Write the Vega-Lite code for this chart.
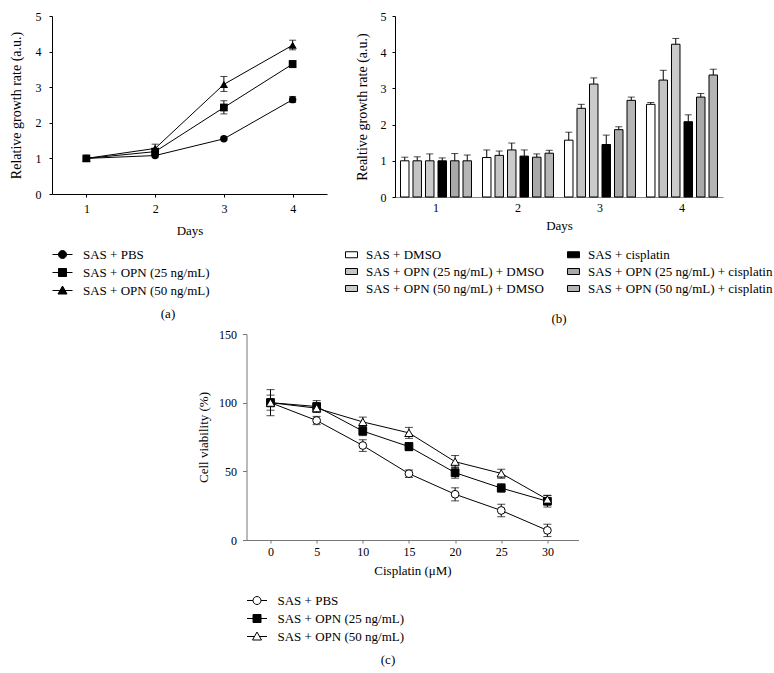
{
  "$schema": "https://vega.github.io/schema/vega-lite/v6.json",
  "padding": {"left": 9, "top": 10, "right": 0, "bottom": 0},
  "config": {
    "font": "Liberation Serif",
    "view": {"stroke": null},
    "axis": {"grid": false, "labelFont": "Liberation Serif", "labelFontSize": 12, "labelColor": "black", "titleFont": "Liberation Serif", "titleFontSize": 13, "titleFontWeight": "normal", "titleColor": "black", "domainColor": "black", "tickColor": "black", "tickSize": 3, "labelPadding": 6},
    "legend": {"labelFont": "Liberation Serif", "labelFontSize": 13, "labelColor": "black", "padding": 0, "titlePadding": 0, "labelLimit": 0},
    "title": {"font": "Liberation Serif", "fontSize": 13, "fontWeight": "normal", "color": "black"}
  },
  "center": true,
  "spacing": 2,
  "resolve": {"scale": {"shape": "independent", "fill": "independent", "color": "independent"}, "legend": {"shape": "independent", "fill": "independent", "color": "independent"}},
  "vconcat": [
    {
      "spacing": 18,
      "resolve": {"scale": {"shape": "independent", "fill": "independent", "color": "independent"}, "legend": {"shape": "independent", "fill": "independent", "color": "independent"}},
      "hconcat": [
        {
          "width": 275,
          "height": 178,
          "title": {"text": "(a)", "orient": "bottom", "offset": 10, "frame": "bounds"},
          "data": {"values": [
            {"day": 1, "series": "SAS + PBS", "v": 1.0, "lo": 0.95, "hi": 1.05},
            {"day": 2, "series": "SAS + PBS", "v": 1.08, "lo": 1.04, "hi": 1.12},
            {"day": 3, "series": "SAS + PBS", "v": 1.55, "lo": 1.52, "hi": 1.58},
            {"day": 4, "series": "SAS + PBS", "v": 2.65, "lo": 2.57, "hi": 2.74},
            {"day": 1, "series": "SAS + OPN (25 ng/mL)", "v": 1.0, "lo": 0.94, "hi": 1.06},
            {"day": 2, "series": "SAS + OPN (25 ng/mL)", "v": 1.19, "lo": 1.1, "hi": 1.28},
            {"day": 3, "series": "SAS + OPN (25 ng/mL)", "v": 2.43, "lo": 2.25, "hi": 2.62},
            {"day": 4, "series": "SAS + OPN (25 ng/mL)", "v": 3.65, "lo": 3.55, "hi": 3.75},
            {"day": 1, "series": "SAS + OPN (50 ng/mL)", "v": 1.0, "lo": 0.94, "hi": 1.06},
            {"day": 2, "series": "SAS + OPN (50 ng/mL)", "v": 1.28, "lo": 1.16, "hi": 1.4},
            {"day": 3, "series": "SAS + OPN (50 ng/mL)", "v": 3.08, "lo": 2.88, "hi": 3.3},
            {"day": 4, "series": "SAS + OPN (50 ng/mL)", "v": 4.18, "lo": 4.05, "hi": 4.32}
          ]},
          "encoding": {
            "x": {"field": "day", "type": "quantitative", "scale": {"domain": [0.5, 4.5], "nice": false}, "axis": {"values": [1, 2, 3, 4], "format": "d", "title": "Days", "labelPadding": 6, "titlePadding": 10}}
          },
          "layer": [
            {"mark": {"type": "line", "color": "black", "strokeWidth": 1},
             "encoding": {
               "y": {"field": "v", "type": "quantitative", "scale": {"domain": [0, 5], "nice": false}, "title": "Relative growth rate (a.u.)", "axis": {"values": [0, 1, 2, 3, 4, 5], "titlePadding": 12, "labelPadding": 8, "titleFontSize": 14}},
               "detail": {"field": "series"}}},
            {"mark": {"type": "rule", "color": "black", "strokeWidth": 1},
             "encoding": {"y": {"field": "lo", "type": "quantitative", "scale": {"domain": [0, 5], "nice": false}, "title": "Relative growth rate (a.u.)", "axis": {"values": [0, 1, 2, 3, 4, 5], "titlePadding": 12, "labelPadding": 8, "titleFontSize": 14}}, "y2": {"field": "hi"}}},
            {"mark": {"type": "tick", "orient": "horizontal", "color": "black", "size": 7, "thickness": 1},
             "encoding": {"y": {"field": "hi", "type": "quantitative", "scale": {"domain": [0, 5], "nice": false}, "title": "Relative growth rate (a.u.)", "axis": {"values": [0, 1, 2, 3, 4, 5], "titlePadding": 12, "labelPadding": 8, "titleFontSize": 14}}}},
            {"mark": {"type": "tick", "orient": "horizontal", "color": "black", "size": 7, "thickness": 1},
             "encoding": {"y": {"field": "lo", "type": "quantitative", "scale": {"domain": [0, 5], "nice": false}, "title": "Relative growth rate (a.u.)", "axis": {"values": [0, 1, 2, 3, 4, 5], "titlePadding": 12, "labelPadding": 8, "titleFontSize": 14}}}},
            {"transform": [{"filter": "datum.series === 'SAS + PBS'"}],
             "mark": {"type": "point", "shape": "circle", "filled": true, "color": "black", "size": 55, "opacity": 1},
             "encoding": {"y": {"field": "v", "type": "quantitative", "scale": {"domain": [0, 5], "nice": false}, "title": "Relative growth rate (a.u.)", "axis": {"values": [0, 1, 2, 3, 4, 5], "titlePadding": 12, "labelPadding": 8, "titleFontSize": 14}}}},
            {"transform": [{"filter": "datum.series === 'SAS + OPN (25 ng/mL)'"}],
             "mark": {"type": "point", "shape": "square", "filled": true, "color": "black", "size": 60, "opacity": 1},
             "encoding": {"y": {"field": "v", "type": "quantitative", "scale": {"domain": [0, 5], "nice": false}, "title": "Relative growth rate (a.u.)", "axis": {"values": [0, 1, 2, 3, 4, 5], "titlePadding": 12, "labelPadding": 8, "titleFontSize": 14}}}},
            {"transform": [{"filter": "datum.series === 'SAS + OPN (50 ng/mL)'"}],
             "mark": {"type": "point", "shape": "triangle-up", "filled": true, "color": "black", "size": 70, "opacity": 1},
             "encoding": {"y": {"field": "v", "type": "quantitative", "scale": {"domain": [0, 5], "nice": false}, "title": "Relative growth rate (a.u.)", "axis": {"values": [0, 1, 2, 3, 4, 5], "titlePadding": 12, "labelPadding": 8, "titleFontSize": 14}}}},
            {"transform": [{"filter": "false"}],
             "mark": {"type": "point", "filled": true, "stroke": "black"},
             "encoding": {
               "y": {"field": "v", "type": "quantitative", "scale": {"domain": [0, 5], "nice": false}, "title": "Relative growth rate (a.u.)", "axis": {"values": [0, 1, 2, 3, 4, 5], "titlePadding": 12, "labelPadding": 8, "titleFontSize": 14}},
               "shape": {"field": "series", "type": "nominal",
                 "scale": {"domain": ["SAS + PBS", "SAS + OPN (25 ng/mL)", "SAS + OPN (50 ng/mL)"], "range": ["M-1,0H1M0.4,0A0.4,0.4,0,1,1,-0.4,0A0.4,0.4,0,1,1,0.4,0Z", "M-1,0H1M-0.4,-0.4H0.4V0.4H-0.4Z", "M-1,0H1M0,-0.45L0.45,0.35H-0.45Z"]},
                 "legend": {"orient": "none", "legendX": 0, "legendY": 228, "title": null, "symbolSize": 400, "symbolOpacity": 1, "symbolStrokeColor": "black", "symbolStrokeWidth": 1, "labelOffset": 10, "rowPadding": -2.5,
                   "encode": {"symbols": {"update": {"stroke": {"value": "black"}, "strokeWidth": {"value": 1}, "opacity": {"value": 1}}}}}},
               "fill": {"field": "series", "type": "nominal",
                 "scale": {"domain": ["SAS + PBS", "SAS + OPN (25 ng/mL)", "SAS + OPN (50 ng/mL)"], "range": ["black", "black", "black"]},
                 "legend": {"orient": "none", "legendX": 0, "legendY": 228, "title": null, "symbolSize": 400, "symbolOpacity": 1, "symbolStrokeColor": "black", "symbolStrokeWidth": 1, "labelOffset": 10, "rowPadding": -2.5,
                   "encode": {"symbols": {"update": {"stroke": {"value": "black"}, "strokeWidth": {"value": 1}, "opacity": {"value": 1}}}}}}}}
          ]
        },
        {
          "width": 328,
          "height": 181,
          "title": {"text": "(b)", "orient": "bottom", "offset": 17, "frame": "bounds"},
          "data": {"values": [
            {"day": "1", "series": "SAS + DMSO", "v": 1.0, "hi": 1.1},
            {"day": "1", "series": "SAS + OPN (25 ng/mL) + DMSO", "v": 1.0, "hi": 1.11},
            {"day": "1", "series": "SAS + OPN (50 ng/mL) + DMSO", "v": 1.0, "hi": 1.19},
            {"day": "1", "series": "SAS + cisplatin", "v": 1.0, "hi": 1.08},
            {"day": "1", "series": "SAS + OPN (25 ng/mL) + cisplatin", "v": 1.0, "hi": 1.2},
            {"day": "1", "series": "SAS + OPN (50 ng/mL) + cisplatin", "v": 1.0, "hi": 1.16},
            {"day": "2", "series": "SAS + DMSO", "v": 1.09, "hi": 1.3},
            {"day": "2", "series": "SAS + OPN (25 ng/mL) + DMSO", "v": 1.15, "hi": 1.27},
            {"day": "2", "series": "SAS + OPN (50 ng/mL) + DMSO", "v": 1.3, "hi": 1.49},
            {"day": "2", "series": "SAS + cisplatin", "v": 1.13, "hi": 1.3},
            {"day": "2", "series": "SAS + OPN (25 ng/mL) + cisplatin", "v": 1.1, "hi": 1.19},
            {"day": "2", "series": "SAS + OPN (50 ng/mL) + cisplatin", "v": 1.21, "hi": 1.29},
            {"day": "3", "series": "SAS + DMSO", "v": 1.57, "hi": 1.79},
            {"day": "3", "series": "SAS + OPN (25 ng/mL) + DMSO", "v": 2.45, "hi": 2.56},
            {"day": "3", "series": "SAS + OPN (50 ng/mL) + DMSO", "v": 3.12, "hi": 3.29},
            {"day": "3", "series": "SAS + cisplatin", "v": 1.45, "hi": 1.71},
            {"day": "3", "series": "SAS + OPN (25 ng/mL) + cisplatin", "v": 1.86, "hi": 1.94},
            {"day": "3", "series": "SAS + OPN (50 ng/mL) + cisplatin", "v": 2.67, "hi": 2.76},
            {"day": "4", "series": "SAS + DMSO", "v": 2.56, "hi": 2.61},
            {"day": "4", "series": "SAS + OPN (25 ng/mL) + DMSO", "v": 3.23, "hi": 3.5},
            {"day": "4", "series": "SAS + OPN (50 ng/mL) + DMSO", "v": 4.22, "hi": 4.38},
            {"day": "4", "series": "SAS + cisplatin", "v": 2.08, "hi": 2.27},
            {"day": "4", "series": "SAS + OPN (25 ng/mL) + cisplatin", "v": 2.76, "hi": 2.86},
            {"day": "4", "series": "SAS + OPN (50 ng/mL) + cisplatin", "v": 3.37, "hi": 3.53}
          ]},
          "encoding": {
            "x": {"field": "day", "type": "ordinal", "scale": {"paddingInner": 0.134, "paddingOuter": 0.067}, "axis": {"title": "Days", "labelAngle": 0, "ticks": false, "domainColor": "#888888", "labelPadding": 5, "titlePadding": 6}},
            "xOffset": {"field": "series", "type": "nominal", "scale": {"domain": ["SAS + DMSO", "SAS + OPN (25 ng/mL) + DMSO", "SAS + OPN (50 ng/mL) + DMSO", "SAS + cisplatin", "SAS + OPN (25 ng/mL) + cisplatin", "SAS + OPN (50 ng/mL) + cisplatin"], "paddingInner": 0.32, "paddingOuter": 0}}
          },
          "layer": [
            {"mark": {"type": "bar", "stroke": "black", "strokeWidth": 1},
             "encoding": {
               "y": {"field": "v", "type": "quantitative", "scale": {"domain": [0, 5], "nice": false}, "title": "Realtive growth rate (a.u.)", "axis": {"values": [0, 1, 2, 3, 4, 5], "titlePadding": 11, "labelPadding": 6, "titleFontSize": 14}},
               "fill": {"field": "series", "type": "nominal",
                 "scale": {"domain": ["SAS + DMSO", "SAS + OPN (25 ng/mL) + DMSO", "SAS + OPN (50 ng/mL) + DMSO", "SAS + cisplatin", "SAS + OPN (25 ng/mL) + cisplatin", "SAS + OPN (50 ng/mL) + cisplatin"],
                           "range": ["#ffffff", "#c4c4c4", "#cbcbcb", "#000000", "#a9a9a9", "#b5b5b5"]},
                 "legend": {"orient": "none", "legendX": -50, "legendY": 232, "title": null, "columns": 2, "columnPadding": 21, "symbolType": "M-1,-0.5H1V0.5H-1Z", "symbolSize": 144, "symbolStrokeColor": "black", "symbolStrokeWidth": 1, "labelOffset": 8, "rowPadding": 3, "labelLimit": 0}}}},
            {"mark": {"type": "rule", "color": "black", "strokeWidth": 1},
             "encoding": {"y": {"field": "v", "type": "quantitative", "scale": {"domain": [0, 5], "nice": false}, "title": "Realtive growth rate (a.u.)", "axis": {"values": [0, 1, 2, 3, 4, 5], "titlePadding": 11, "labelPadding": 6, "titleFontSize": 14}}, "y2": {"field": "hi"}}},
            {"mark": {"type": "tick", "orient": "horizontal", "color": "black", "size": 7, "thickness": 1},
             "encoding": {"y": {"field": "hi", "type": "quantitative", "scale": {"domain": [0, 5], "nice": false}, "title": "Realtive growth rate (a.u.)", "axis": {"values": [0, 1, 2, 3, 4, 5], "titlePadding": 11, "labelPadding": 6, "titleFontSize": 14}}}}
          ]
        }
      ]
    },
    {
      "width": 332,
      "height": 206,
      "title": {"text": "(c)", "orient": "bottom", "offset": 10, "frame": "bounds"},
      "data": {"values": [
        {"dose": 0, "series": "SAS + PBS", "v": 100, "lo": 90.5, "hi": 109.5},
        {"dose": 5, "series": "SAS + PBS", "v": 87, "lo": 84, "hi": 90},
        {"dose": 10, "series": "SAS + PBS", "v": 68.8, "lo": 64.5, "hi": 73},
        {"dose": 15, "series": "SAS + PBS", "v": 48.3, "lo": 45.5, "hi": 51},
        {"dose": 20, "series": "SAS + PBS", "v": 33.3, "lo": 28.5, "hi": 38},
        {"dose": 25, "series": "SAS + PBS", "v": 21.5, "lo": 17, "hi": 26},
        {"dose": 30, "series": "SAS + PBS", "v": 7, "lo": 2.5, "hi": 11.5},
        {"dose": 0, "series": "SAS + OPN (25 ng/mL)", "v": 100, "lo": 94.5, "hi": 105.5},
        {"dose": 5, "series": "SAS + OPN (25 ng/mL)", "v": 97.2, "lo": 93, "hi": 101.5},
        {"dose": 10, "series": "SAS + OPN (25 ng/mL)", "v": 79.3, "lo": 76, "hi": 82.5},
        {"dose": 15, "series": "SAS + OPN (25 ng/mL)", "v": 68, "lo": 65, "hi": 71},
        {"dose": 20, "series": "SAS + OPN (25 ng/mL)", "v": 49, "lo": 45, "hi": 53},
        {"dose": 25, "series": "SAS + OPN (25 ng/mL)", "v": 37.8, "lo": 35, "hi": 41},
        {"dose": 30, "series": "SAS + OPN (25 ng/mL)", "v": 28.2, "lo": 24, "hi": 32.5},
        {"dose": 0, "series": "SAS + OPN (50 ng/mL)", "v": 100, "lo": 97, "hi": 103},
        {"dose": 5, "series": "SAS + OPN (50 ng/mL)", "v": 96, "lo": 93, "hi": 99},
        {"dose": 10, "series": "SAS + OPN (50 ng/mL)", "v": 86, "lo": 82.5, "hi": 89.5},
        {"dose": 15, "series": "SAS + OPN (50 ng/mL)", "v": 78, "lo": 74, "hi": 82},
        {"dose": 20, "series": "SAS + OPN (50 ng/mL)", "v": 57, "lo": 53, "hi": 61.5},
        {"dose": 25, "series": "SAS + OPN (50 ng/mL)", "v": 48.5, "lo": 45, "hi": 51.5},
        {"dose": 30, "series": "SAS + OPN (50 ng/mL)", "v": 29.5, "lo": 26.5, "hi": 32.5}
      ]},
      "encoding": {
        "x": {"field": "dose", "type": "quantitative", "scale": {"domain": [-2.6, 33.37], "nice": false}, "axis": {"values": [0, 5, 10, 15, 20, 25, 30], "title": "Cisplatin (μM)", "domainColor": "#777777", "tickColor": "#777777", "labelPadding": 3, "titlePadding": 7}}
      },
      "layer": [
        {"mark": {"type": "line", "color": "black", "strokeWidth": 1},
         "encoding": {
           "y": {"field": "v", "type": "quantitative", "scale": {"domain": [0, 150], "nice": false}, "title": "Cell viability (%)", "axis": {"values": [0, 50, 100, 150], "domainColor": "#777777", "tickColor": "#777777", "tickSize": 4, "labelPadding": 6, "titlePadding": 8}},
           "detail": {"field": "series"}}},
        {"mark": {"type": "rule", "color": "black", "strokeWidth": 1},
         "encoding": {"y": {"field": "lo", "type": "quantitative", "scale": {"domain": [0, 150], "nice": false}, "title": "Cell viability (%)", "axis": {"values": [0, 50, 100, 150], "domainColor": "#777777", "tickColor": "#777777", "tickSize": 4, "labelPadding": 6, "titlePadding": 8}}, "y2": {"field": "hi"}}},
        {"mark": {"type": "tick", "orient": "horizontal", "color": "black", "size": 8, "thickness": 1},
         "encoding": {"y": {"field": "hi", "type": "quantitative", "scale": {"domain": [0, 150], "nice": false}, "title": "Cell viability (%)", "axis": {"values": [0, 50, 100, 150], "domainColor": "#777777", "tickColor": "#777777", "tickSize": 4, "labelPadding": 6, "titlePadding": 8}}}},
        {"mark": {"type": "tick", "orient": "horizontal", "color": "black", "size": 8, "thickness": 1},
         "encoding": {"y": {"field": "lo", "type": "quantitative", "scale": {"domain": [0, 150], "nice": false}, "title": "Cell viability (%)", "axis": {"values": [0, 50, 100, 150], "domainColor": "#777777", "tickColor": "#777777", "tickSize": 4, "labelPadding": 6, "titlePadding": 8}}}},
        {"transform": [{"filter": "datum.series === 'SAS + PBS'"}],
         "mark": {"type": "point", "shape": "circle", "filled": true, "fill": "white", "stroke": "black", "strokeWidth": 1, "size": 60, "opacity": 1},
         "encoding": {"y": {"field": "v", "type": "quantitative", "scale": {"domain": [0, 150], "nice": false}, "title": "Cell viability (%)", "axis": {"values": [0, 50, 100, 150], "domainColor": "#777777", "tickColor": "#777777", "tickSize": 4, "labelPadding": 6, "titlePadding": 8}}}},
        {"transform": [{"filter": "datum.series === 'SAS + OPN (25 ng/mL)'"}],
         "mark": {"type": "point", "shape": "square", "filled": true, "fill": "black", "stroke": "black", "strokeWidth": 1, "size": 60, "opacity": 1},
         "encoding": {"y": {"field": "v", "type": "quantitative", "scale": {"domain": [0, 150], "nice": false}, "title": "Cell viability (%)", "axis": {"values": [0, 50, 100, 150], "domainColor": "#777777", "tickColor": "#777777", "tickSize": 4, "labelPadding": 6, "titlePadding": 8}}}},
        {"transform": [{"filter": "datum.series === 'SAS + OPN (50 ng/mL)'"}],
         "mark": {"type": "point", "shape": "triangle-up", "filled": true, "fill": "white", "stroke": "black", "strokeWidth": 1, "size": 70, "opacity": 1},
         "encoding": {"y": {"field": "v", "type": "quantitative", "scale": {"domain": [0, 150], "nice": false}, "title": "Cell viability (%)", "axis": {"values": [0, 50, 100, 150], "domainColor": "#777777", "tickColor": "#777777", "tickSize": 4, "labelPadding": 6, "titlePadding": 8}}}},
        {"transform": [{"filter": "false"}],
         "mark": {"type": "point", "filled": true, "stroke": "black"},
         "encoding": {
           "y": {"field": "v", "type": "quantitative", "scale": {"domain": [0, 150], "nice": false}, "title": "Cell viability (%)", "axis": {"values": [0, 50, 100, 150], "domainColor": "#777777", "tickColor": "#777777", "tickSize": 4, "labelPadding": 6, "titlePadding": 8}},
           "shape": {"field": "series", "type": "nominal",
             "scale": {"domain": ["SAS + PBS", "SAS + OPN (25 ng/mL)", "SAS + OPN (50 ng/mL)"], "range": ["M-1,0H-0.4M0.4,0H1M0.4,0A0.4,0.4,0,1,1,-0.4,0A0.4,0.4,0,1,1,0.4,0Z", "M-1,0H1M-0.4,-0.4H0.4V0.4H-0.4Z", "M-1,0H-0.25M0.25,0H1M0,-0.45L0.45,0.35H-0.45Z"]},
             "legend": {"orient": "none", "legendX": 0, "legendY": 256, "title": null, "symbolSize": 400, "symbolOpacity": 1, "symbolStrokeColor": "black", "symbolStrokeWidth": 1, "labelOffset": 10, "rowPadding": -4,
               "encode": {"symbols": {"update": {"stroke": {"value": "black"}, "strokeWidth": {"value": 1}, "opacity": {"value": 1}}}}}},
           "fill": {"field": "series", "type": "nominal",
             "scale": {"domain": ["SAS + PBS", "SAS + OPN (25 ng/mL)", "SAS + OPN (50 ng/mL)"], "range": ["white", "black", "white"]},
             "legend": {"orient": "none", "legendX": 0, "legendY": 256, "title": null, "symbolSize": 400, "symbolOpacity": 1, "symbolStrokeColor": "black", "symbolStrokeWidth": 1, "labelOffset": 10, "rowPadding": -4,
               "encode": {"symbols": {"update": {"stroke": {"value": "black"}, "strokeWidth": {"value": 1}, "opacity": {"value": 1}}}}}}}}
      ]
    }
  ]
}
